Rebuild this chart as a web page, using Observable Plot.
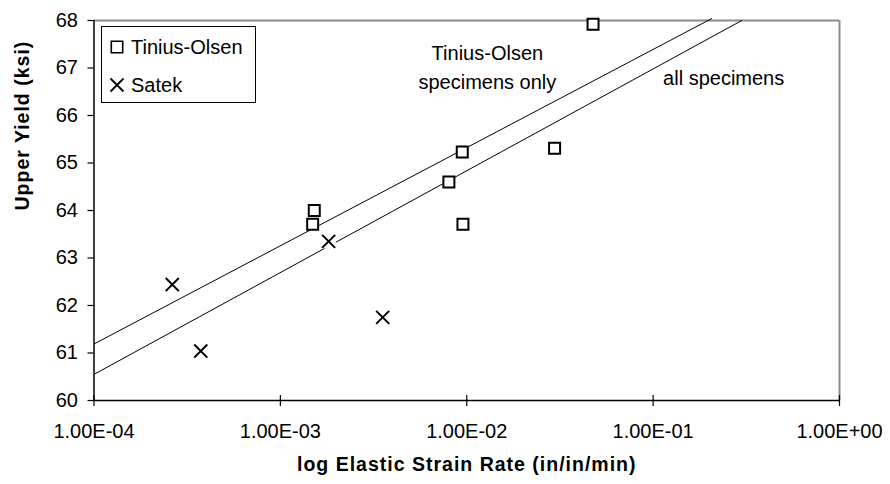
<!DOCTYPE html>
<html>
<head>
<meta charset="utf-8">
<script src="https://cdn.jsdelivr.net/npm/d3@7"></script>
<script src="https://cdn.jsdelivr.net/npm/@observablehq/plot@0.6"></script>
<style>
  html, body { margin: 0; padding: 0; background: #fff; }
  #wrap { position: relative; width: 890px; height: 484px; font-family: "Liberation Sans", Arial, sans-serif; }
  #legend { position: absolute; left: 101px; top: 26px; width: 155px; height: 77px; border: 1.5px solid #000; background: #fff; box-sizing: border-box; }
  .lrow { position: absolute; left: 0; height: 24px; display: flex; align-items: center; font-size: 20px; color: #000; }
  .lrow svg { margin-left: 7px; margin-right: 6px; }
</style>
</head>
<body>
<div id="wrap"></div>
<script>
// ---- data ----
const tiniusX = [1.52e-3, 1.49e-3, 8.02e-3, 9.46e-3, 9.54e-3, 0.0296, 0.0476];
const tiniusY = [64.0, 63.71, 64.6, 65.23, 63.71, 65.31, 67.92];
const satekX = [2.63e-4, 3.74e-4, 1.815e-3, 3.54e-3];
const satekY = [62.44, 61.04, 63.35, 61.75];
// trend lines (end points)
const trendTOX = [1e-4, 0.206];
const trendTOY = [61.19, 68.04];
const trendAllX = [1e-4, 0.299];
const trendAllY = [60.55, 68.0];
// ticks
const xTickValues = [1e-4, 1e-3, 1e-2, 1e-1, 1];
const xTickLabels = ["1.00E-04", "1.00E-03", "1.00E-02", "1.00E-01", "1.00E+00"];
const yTickValues = [60, 61, 62, 63, 64, 65, 66, 67, 68];
const xDomain = [1e-4, 1];
const yDomain = [60, 68];
// annotations
const annotLabels = ["Tinius-Olsen\nspecimens only", "all specimens"];
const annotX = [0.0129, 0.239];
const annotY = [67.05, 66.84];
// titles and legend
const xTitle = ["log Elastic Strain Rate (in/in/min)"];
const yTitle = ["Upper Yield (ksi)"];
const seriesNames = ["Tinius-Olsen", "Satek"];

const tinius = tiniusX.map((x, i) => ({x, y: tiniusY[i]}));
const satek = satekX.map((x, i) => ({x, y: satekY[i]}));
const trendTO = trendTOX.map((x, i) => ({x, y: trendTOY[i]}));
const trendAll = trendAllX.map((x, i) => ({x, y: trendAllY[i]}));
const annots = annotLabels.map((t, i) => ({t, x: annotX[i], y: annotY[i]}));

const font = "'Liberation Sans', Arial, sans-serif";

const chart = Plot.plot({
  width: 890,
  height: 484,
  marginLeft: 93.5,
  marginRight: 51,
  marginTop: 20,
  marginBottom: 84,
  style: {fontFamily: font, color: "#000", background: "#fff", overflow: "visible"},
  x: {type: "log", domain: xDomain},
  y: {domain: yDomain},
  marks: [
    Plot.ruleY([yDomain[1]], {stroke: "#8c8c8c", strokeWidth: 2}),
    Plot.ruleX([xDomain[1]], {stroke: "#8c8c8c", strokeWidth: 2}),
    Plot.line(trendTO, {x: "x", y: "y", stroke: "#000", strokeWidth: 1}),
    Plot.line(trendAll, {x: "x", y: "y", stroke: "#000", strokeWidth: 1}),
    Plot.dot(satek, {x: "x", y: "y", symbol: "square", r: 8, fill: "#fff", stroke: "none"}),
    Plot.dot(satek, {x: "x", y: "y", symbol: "times", r: 6, stroke: "#000", strokeWidth: 2}),
    Plot.dot(tinius, {x: "x", y: "y", symbol: "square", r: 6.2, fill: "#fff", stroke: "#000", strokeWidth: 2}),
    Plot.ruleX([xDomain[0]], {stroke: "#000", strokeWidth: 1.5}),
    Plot.ruleY([yDomain[0]], {stroke: "#000", strokeWidth: 1.5}),
    Plot.axisY(yTickValues, {tickSize: 6, tickPadding: 10, fontSize: 20, label: null, stroke: "#000", strokeWidth: 1.2}),
    Plot.axisX(xTickValues, {tickSize: 11, dy: -5, tickFormat: () => "", label: null, stroke: "#000", strokeWidth: 1.2}),
    Plot.axisX(xTickValues, {tickSize: 0, tickPadding: 23, fontSize: 20, label: null,
      tickFormat: d => xTickLabels[xTickValues.indexOf(d)]}),
    Plot.text(annots, {x: "x", y: "y", text: "t", fontSize: 20, lineHeight: 1.45, textAnchor: "middle", fill: "#000"}),
    Plot.text(xTitle, {frameAnchor: "bottom", dy: 70, fontSize: 19.5, fontWeight: "bold", fill: "#000", text: d => d}),
    Plot.text(yTitle, {frameAnchor: "left", dx: -71.5, rotate: -90, fontSize: 19.5, fontWeight: "bold", fill: "#000", text: d => d})
  ]
});
chart.querySelectorAll("text").forEach(t => {
  if (t.getAttribute("font-weight") === "bold" || (t.parentNode && t.parentNode.getAttribute && t.parentNode.getAttribute("font-weight") === "bold")) {
    t.setAttribute("letter-spacing", "1px");
  }
});
const wrap = document.getElementById("wrap");
wrap.appendChild(chart);

// legend
const legend = document.createElement("div");
legend.id = "legend";
const symbols = [d3.symbolSquare, d3.symbolTimes];
seriesNames.forEach((name, i) => {
  const row = document.createElement("div");
  row.className = "lrow";
  row.style.top = (i === 0 ? 8 : 46) + "px";
  const s = d3.create("svg").attr("width", 16).attr("height", 16);
  s.append("path")
    .attr("transform", "translate(8,8)")
    .attr("d", d3.symbol(symbols[i], i === 0 ? 130 : 112)())
    .attr("fill", "#fff").attr("stroke", "#000").attr("stroke-width", i === 0 ? 1.6 : 1.8);
  row.appendChild(s.node());
  const span = document.createElement("span");
  span.textContent = name;
  row.appendChild(span);
  legend.appendChild(row);
});
wrap.appendChild(legend);
</script>
</body>
</html>
